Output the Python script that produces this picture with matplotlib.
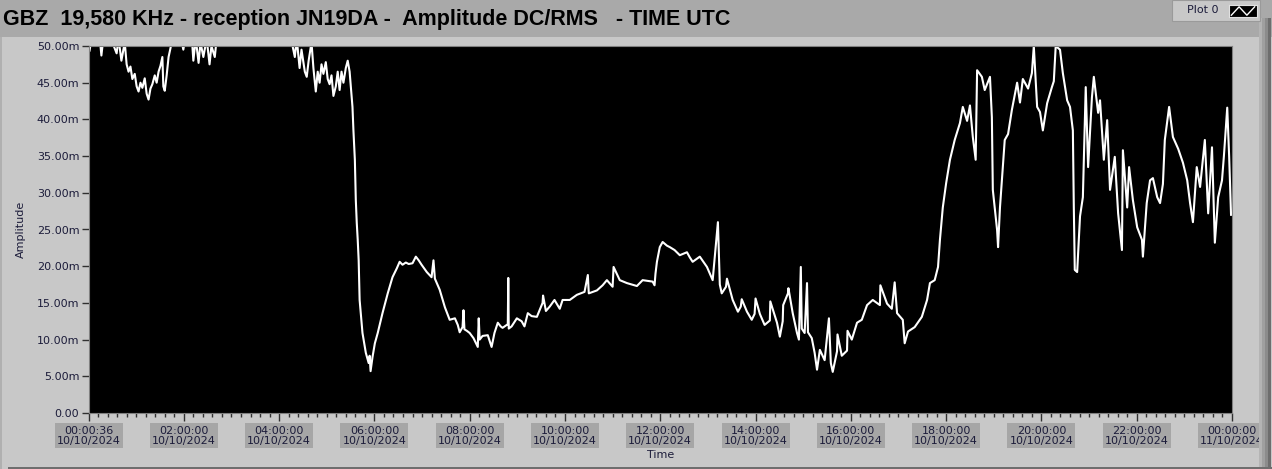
import matplotlib
matplotlib.use("Agg")
import matplotlib.pyplot as plt
from matplotlib.patches import Rectangle
from matplotlib.ticker import FuncFormatter

# time in hours after 00:00 UTC 10/10/2024, amplitude in milli-units
hours = [0.01, 0.02, 0.06, 0.23, 0.27, 0.31, 0.44, 0.59, 0.63, 0.69, 0.76, 0.80, 0.84, 0.88, 0.92,
         0.97, 1.01, 1.05, 1.09, 1.13, 1.18, 1.22, 1.26, 1.30, 1.34, 1.39, 1.43, 1.47, 1.51, 1.55,
         1.57, 1.60, 1.64, 1.68, 1.72, 1.76, 1.91, 1.99, 2.04, 2.16, 2.20, 2.25, 2.31, 2.35, 2.41,
         2.48, 2.54, 2.58, 2.65, 2.69, 2.96, 3.38, 3.80, 4.22, 4.33, 4.37, 4.43, 4.47, 4.54, 4.58,
         4.62, 4.68, 4.72, 4.77, 4.81, 4.85, 4.89, 4.93, 4.98, 5.02, 5.06, 5.10, 5.14, 5.19, 5.23,
         5.27, 5.31, 5.35, 5.40, 5.44, 5.48, 5.52, 5.54, 5.56, 5.59, 5.61, 5.63, 5.65, 5.67, 5.69,
         5.75, 5.82, 5.88, 5.90, 5.92, 5.96, 6.01, 6.07, 6.17, 6.28, 6.38, 6.47, 6.53, 6.59, 6.66,
         6.72, 6.80, 6.87, 6.93, 6.99, 7.10, 7.20, 7.24, 7.27, 7.37, 7.48, 7.54, 7.58, 7.69, 7.75,
         7.79, 7.85, 7.87, 7.89, 7.94, 8.00, 8.08, 8.17, 8.19, 8.21, 8.27, 8.38, 8.46, 8.52, 8.59,
         8.65, 8.69, 8.80, 8.81, 8.82, 8.88, 8.99, 9.09, 9.15, 9.22, 9.30, 9.41, 9.53, 9.54, 9.60,
         9.68, 9.78, 9.89, 9.95, 10.10, 10.25, 10.41, 10.48, 10.50, 10.67, 10.79, 10.88, 11.00, 11.02, 11.15,
         11.30, 11.51, 11.63, 11.84, 11.88, 11.90, 11.93, 11.99, 12.05, 12.14, 12.20, 12.30, 12.41, 12.56, 12.62,
         12.68, 12.83, 12.98, 13.10, 13.21, 13.25, 13.29, 13.38, 13.40, 13.52, 13.63, 13.69, 13.71, 13.82, 13.92,
         13.98, 14.00, 14.09, 14.19, 14.30, 14.31, 14.45, 14.51, 14.57, 14.58, 14.68, 14.69, 14.78, 14.87, 14.91,
         14.95, 14.97, 15.03, 15.08, 15.10, 15.18, 15.24, 15.29, 15.35, 15.45, 15.54, 15.58, 15.62, 15.71, 15.72,
         15.81, 15.92, 15.93, 16.02, 16.13, 16.23, 16.34, 16.46, 16.61, 16.62, 16.76, 16.86, 16.92, 16.97, 17.09,
         17.13, 17.20, 17.34, 17.49, 17.60, 17.66, 17.76, 17.83, 17.87, 17.93, 18.00, 18.08, 18.18, 18.29, 18.35,
         18.44, 18.50, 18.56, 18.62, 18.65, 18.75, 18.81, 18.92, 18.96, 18.98, 19.07, 19.09, 19.13, 19.17, 19.23,
         19.30, 19.38, 19.49, 19.55, 19.61, 19.72, 19.80, 19.84, 19.91, 19.97, 20.03, 20.12, 20.22, 20.26, 20.30,
         20.39, 20.45, 20.54, 20.60, 20.66, 20.68, 20.70, 20.75, 20.81, 20.87, 20.93, 20.98, 21.06, 21.10, 21.19,
         21.23, 21.31, 21.38, 21.44, 21.54, 21.61, 21.69, 21.71, 21.80, 21.84, 21.92, 22.01, 22.11, 22.13, 22.21,
         22.28, 22.34, 22.43, 22.49, 22.55, 22.59, 22.68, 22.76, 22.87, 22.97, 23.06, 23.12, 23.18, 23.26, 23.33,
         23.43, 23.50, 23.58, 23.64, 23.71, 23.79, 23.83, 23.90, 23.94, 23.98]

amplitude = [51.0, 49.3, 51.0, 51.5, 48.7, 51.0, 51.5, 49.0, 51.0, 48.0, 50.5, 47.5, 46.5, 47.2, 45.5,
             46.2, 44.5, 43.8, 45.0, 44.3, 45.6, 43.5, 42.7, 44.2, 44.8, 46.0, 45.0, 46.5, 47.3, 48.5,
             44.5, 43.9, 46.0, 48.5, 49.7, 51.0, 52.0, 49.5, 51.5, 52.0, 48.0, 51.0, 47.7, 50.5, 48.5,
             51.0, 47.5, 50.0, 48.5, 51.0, 54.0, 55.0, 54.0, 52.0, 48.5, 51.0, 47.0, 49.5, 46.5, 45.8,
             48.0, 50.5, 47.0, 43.8, 46.5, 45.0, 47.5, 46.2, 47.8, 45.5, 44.8, 46.0, 43.2, 44.5, 46.5,
             44.0, 46.5, 45.0, 47.0, 48.0, 46.5, 43.4, 41.7, 38.5, 34.5, 29.0, 25.9, 23.6, 20.8, 15.4,
             10.9, 8.2, 6.8, 7.8, 5.7, 7.6, 9.5, 10.9, 13.6, 16.3, 18.5, 19.7, 20.6, 20.2, 20.5,
             20.3, 20.4, 21.3, 20.8, 20.2, 19.2, 18.5, 20.8, 18.3, 16.8, 14.4, 13.4, 12.7, 12.9, 12.0,
             11.0, 11.7, 14.0, 11.4, 11.2, 10.9, 10.2, 9.0, 12.9, 10.0, 10.5, 10.6, 9.0, 10.9, 12.3,
             11.8, 11.6, 12.1, 18.4, 11.5, 11.8, 12.9, 12.5, 11.8, 13.6, 13.2, 13.1, 15.0, 16.0, 13.9,
             14.5, 15.4, 14.2, 15.4, 15.4, 16.1, 16.5, 18.8, 16.3, 16.7, 17.4, 18.1, 17.2, 19.9, 18.1,
             17.7, 17.3, 18.1, 17.9, 17.4, 19.0, 20.6, 22.6, 23.3, 22.8, 22.6, 22.2, 21.5, 21.9, 21.2,
             20.6, 21.3, 19.9, 18.1, 26.0, 17.5, 16.3, 17.2, 18.3, 15.4, 13.8, 14.5, 15.5, 13.8, 12.7,
             13.5, 15.6, 13.5, 12.0, 12.6, 15.2, 12.3, 10.4, 12.5, 14.7, 16.3, 17.0, 13.6, 10.9, 10.0,
             19.9, 11.5, 10.9, 17.7, 11.0, 10.2, 8.2, 5.9, 8.6, 7.2, 12.9, 6.8, 5.6, 8.4, 10.7,
             7.8, 8.5, 11.2, 10.0, 12.3, 12.7, 14.7, 15.4, 14.7, 17.4, 14.9, 14.2, 17.8, 13.6, 12.7,
             9.5, 11.1, 11.7, 13.1, 15.4, 17.7, 18.1, 19.9, 23.6, 28.0, 31.3, 34.5, 37.2, 39.5, 41.7,
             39.8, 41.9, 37.6, 34.5, 46.7, 45.8, 44.0, 45.8, 40.3, 30.4, 24.9, 22.6, 28.0, 31.7, 37.2,
             38.0, 41.3, 45.0, 42.3, 45.5, 44.2, 46.3, 50.0, 41.7, 41.0, 38.5, 42.2, 44.4, 45.2, 50.0,
             49.5, 46.3, 42.6, 41.7, 38.5, 28.0, 19.5, 19.2, 26.8, 29.4, 44.4, 33.5, 43.0, 45.8, 40.9,
             42.6, 34.5, 39.9, 30.4, 34.9, 27.2, 22.2, 35.8, 28.0, 33.5, 29.0, 25.3, 23.6, 21.3, 28.6,
             31.7, 32.0, 29.4, 28.6, 31.2, 37.2, 41.7, 37.6, 36.0, 34.1, 31.7, 28.6, 26.0, 33.5, 30.8,
             37.2, 27.2, 36.2, 23.2, 29.4, 31.7, 35.0, 41.6, 35.0, 27.0]

tick_hours = [0.01, 2, 4, 6, 8, 10, 12, 14, 16, 18, 20, 22, 24]
tick_labels = ["00:00:36\n10/10/2024", "02:00:00\n10/10/2024", "04:00:00\n10/10/2024",
               "06:00:00\n10/10/2024", "08:00:00\n10/10/2024", "10:00:00\n10/10/2024",
               "12:00:00\n10/10/2024", "14:00:00\n10/10/2024", "16:00:00\n10/10/2024",
               "18:00:00\n10/10/2024", "20:00:00\n10/10/2024", "22:00:00\n10/10/2024",
               "00:00:00\n11/10/2024"]

panel = "#c8c8c8"
band = "#a9a9a9"
txt = "#1c1c3a"

fig = plt.figure(figsize=(12.72, 4.69), dpi=100, facecolor=panel)

# LabVIEW-like frame pieces
fig.patches.append(Rectangle((0, 1 - 37 / 469), 1, 37 / 469, transform=fig.transFigure,
                             facecolor=band, edgecolor="none", zorder=0))
fig.patches.append(Rectangle((0, 0), 2 / 1272, 1 - 37 / 469, transform=fig.transFigure,
                             facecolor="#b0b0b0", edgecolor="none", zorder=0))
for i, c in enumerate(["#b4b4b4", "#a0a0a0", "#8c8c8c", "#6e6e6e"]):
    fig.patches.append(Rectangle(((1259 + 3 * i) / 1272, 0), 3 / 1272, 1 - 18 / 469,
                                 transform=fig.transFigure, facecolor=c, edgecolor="none", zorder=1))
fig.patches.append(Rectangle((8 / 1272, 0), 1 - 8 / 1272, 2 / 469, transform=fig.transFigure,
                             facecolor="#6e6e6e", edgecolor="none", zorder=1))

# legend "Plot 0"
fig.patches.append(Rectangle((1172 / 1272, 1 - 21 / 469), 88 / 1272, 21 / 469, transform=fig.transFigure,
                             facecolor=panel, edgecolor="#9a9a9a", lw=0.8, zorder=2))
fig.text(1187 / 1272, 1 - 10 / 469, "Plot 0", fontsize=8, color=txt, va="center", ha="left")
lax = fig.add_axes([1229 / 1272, 1 - 17 / 469, 28 / 1272, 12 / 469], zorder=5)
lax.set_facecolor("black")
lax.plot([0, 1, 2, 3], [0.15, 0.85, 0.15, 0.85], color="white", lw=1)
lax.set_xlim(-0.3, 3.3)
lax.set_ylim(0, 1)
lax.set_xticks([])
lax.set_yticks([])
for s in lax.spines.values():
    s.set_color("#e0e0e0")

fig.text(3 / 1272, 1 - 20 / 469,
         "GBZ  19,580 KHz - reception JN19DA -  Amplitude DC/RMS   - TIME UTC",
         fontsize=15.5, fontweight="bold", color="black", va="center", ha="left",
         family="Liberation Sans")

ax = fig.add_axes([89 / 1272, 56 / 469, 1143 / 1272, 367 / 469])
ax.set_facecolor("black")
ax.plot(hours, amplitude, color="white", lw=1.5)
ax.set_xlim(0.01, 24)
ax.set_ylim(0, 50)

ax.set_yticks(range(0, 51, 5))
ax.yaxis.set_major_formatter(FuncFormatter(lambda v, p: "0.00" if v == 0 else "%.2fm" % v))
ax.set_xticks(tick_hours)
ax.set_xticklabels(tick_labels)
ax.set_xticks([h / 5 for h in range(1, 120) if h % 10 != 0], minor=True)

ax.tick_params(axis="y", direction="out", length=5, width=1, color="#303030",
               labelsize=8, labelcolor=txt, pad=2)
ax.tick_params(axis="x", which="major", direction="out", length=6, width=1, color="#303030",
               labelsize=8, labelcolor=txt, pad=3)
ax.tick_params(axis="x", which="minor", direction="out", length=3, width=1, color="#303030")
for lab in ax.get_xticklabels():
    lab.set_linespacing(1.1)
    lab.set_bbox(dict(facecolor="#a6a6a6", edgecolor="none", pad=1.5))

for s in ax.spines.values():
    s.set_color("#808080")
    s.set_linewidth(0.8)

ax.set_ylabel("Amplitude", fontsize=8, color=txt, labelpad=8)
ax.set_xlabel("Time", fontsize=8, color=txt, labelpad=3)

fig.savefig("out.png", dpi=100, facecolor=panel)
